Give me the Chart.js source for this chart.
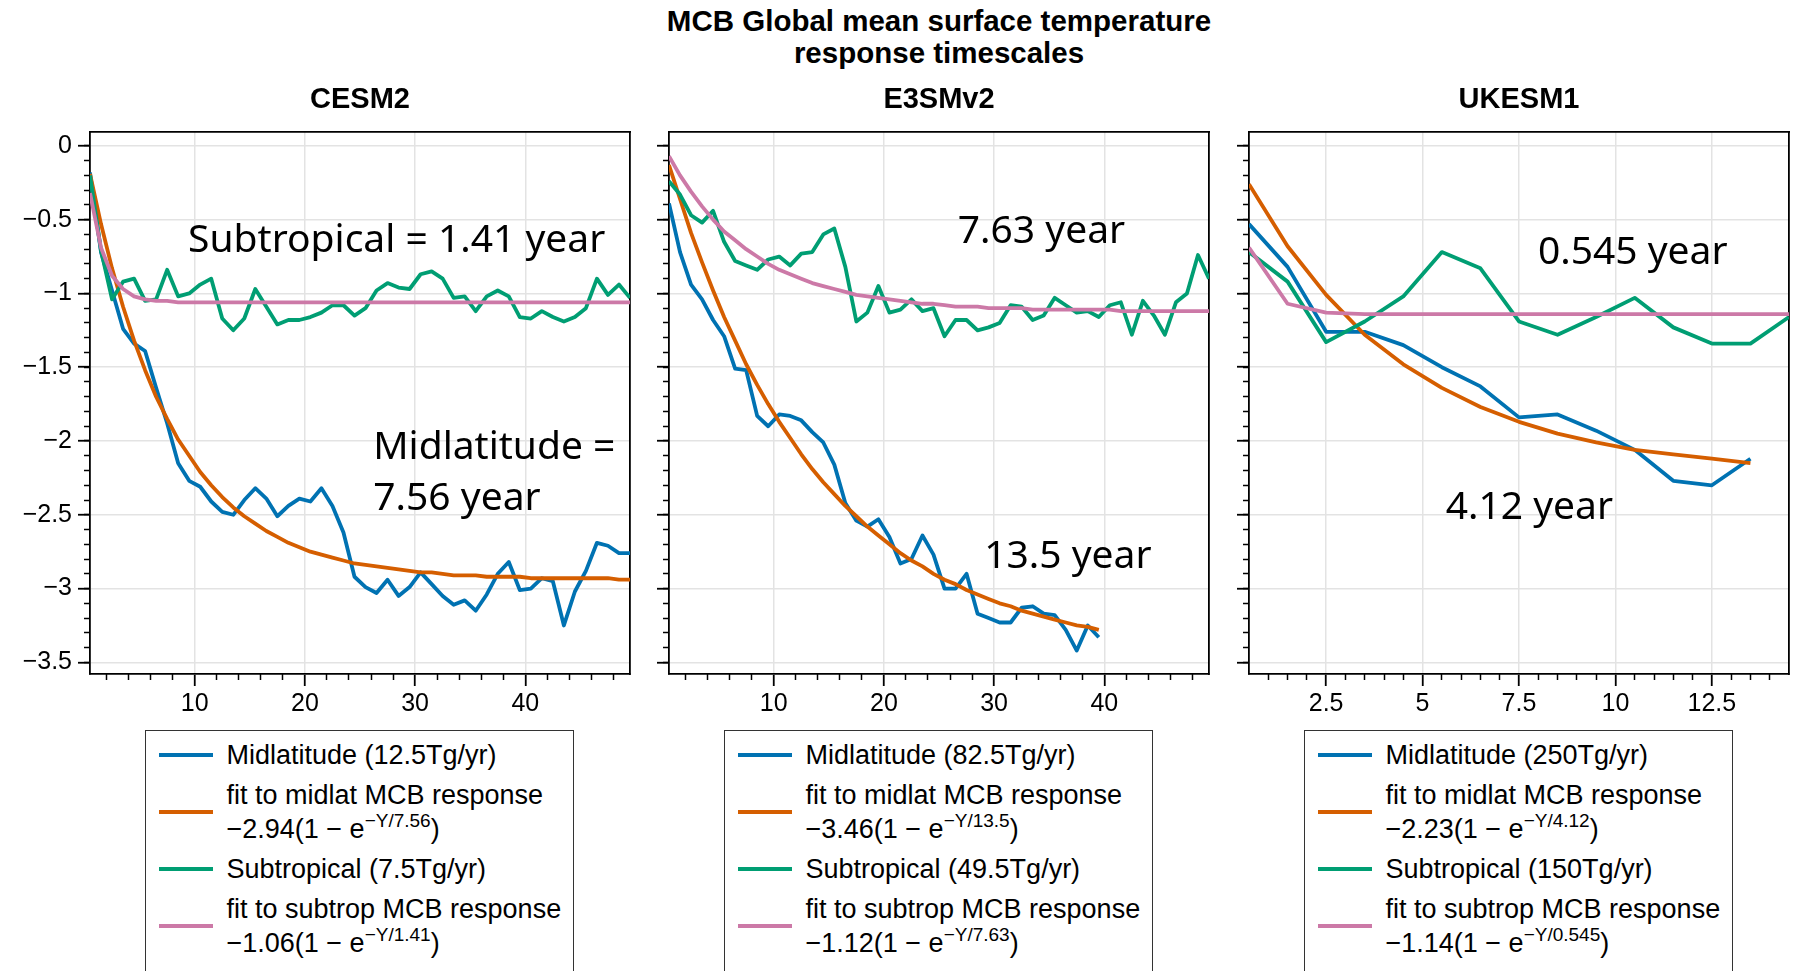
<!DOCTYPE html>
<html>
<head>
<meta charset="utf-8">
<title>MCB Global mean surface temperature response timescales</title>
<script src="https://cdn.jsdelivr.net/npm/chart.js@4.4.1/dist/chart.umd.min.js"></script>
<style>
  html, body { margin: 0; padding: 0; background: #fff; }
  body { width: 1800px; height: 971px; position: relative; overflow: hidden;
         font-family: "Liberation Sans", Arial, sans-serif; color: #000; }
  .suptitle { position: absolute; left: 539px; top: 5px; width: 800px; text-align: center;
              font-weight: bold; font-size: 29.5px; line-height: 32px; }
  canvas { position: absolute; top: 70px; }
  .legend { position: absolute; top: 730px; width: 429px; height: 260px; box-sizing: border-box;
            border: 1.5px solid #333; background: #fff; padding-top: 7px;
            font-size: 27px; line-height: 34px; }
  .row { display: flex; align-items: center; margin-bottom: 6px; }
  .handle { flex: none; width: 54px; height: 4px; margin-left: 12.5px; margin-right: 14px; }
  sup { font-size: 19px; line-height: 0; vertical-align: 11px; }
</style>
</head>
<body>
<div class="suptitle">MCB Global mean surface temperature<br>response timescales</div>

<script>
// values; annual means plotted at year 0.5, 1.5, ...
const years50 = [0.5, 1.5, 2.5, 3.5, 4.5, 5.5, 6.5, 7.5, 8.5, 9.5,
  10.5, 11.5, 12.5, 13.5, 14.5, 15.5, 16.5, 17.5, 18.5, 19.5,
  20.5, 21.5, 22.5, 23.5, 24.5, 25.5, 26.5, 27.5, 28.5, 29.5,
  30.5, 31.5, 32.5, 33.5, 34.5, 35.5, 36.5, 37.5, 38.5, 39.5,
  40.5, 41.5, 42.5, 43.5, 44.5, 45.5, 46.5, 47.5, 48.5, 49.5];
const years40 = [0.5, 1.5, 2.5, 3.5, 4.5, 5.5, 6.5, 7.5, 8.5, 9.5,
  10.5, 11.5, 12.5, 13.5, 14.5, 15.5, 16.5, 17.5, 18.5, 19.5,
  20.5, 21.5, 22.5, 23.5, 24.5, 25.5, 26.5, 27.5, 28.5, 29.5,
  30.5, 31.5, 32.5, 33.5, 34.5, 35.5, 36.5, 37.5, 38.5, 39.5];
const years15 = [0.5, 1.5, 2.5, 3.5, 4.5, 5.5, 6.5, 7.5, 8.5, 9.5, 10.5, 11.5, 12.5, 13.5, 14.5];
const years14 = [0.5, 1.5, 2.5, 3.5, 4.5, 5.5, 6.5, 7.5, 8.5, 9.5, 10.5, 11.5, 12.5, 13.5];

// CESM2
const cesmMid = [-0.18, -0.72, -0.98, -1.24, -1.34, -1.39, -1.64, -1.88, -2.15, -2.27,
  -2.31, -2.41, -2.48, -2.50, -2.40, -2.32, -2.39, -2.51, -2.44, -2.39,
  -2.41, -2.32, -2.44, -2.62, -2.92, -2.99, -3.03, -2.94, -3.05, -2.99,
  -2.89, -2.97, -3.05, -3.11, -3.08, -3.15, -3.04, -2.90, -2.82, -3.01,
  -3.00, -2.93, -2.95, -3.25, -3.02, -2.88, -2.69, -2.71, -2.76, -2.76];
const cesmMidFit = [-0.19, -0.53, -0.83, -1.09, -1.32, -1.52, -1.70, -1.85, -1.99, -2.10,
  -2.21, -2.30, -2.38, -2.45, -2.51, -2.56, -2.61, -2.65, -2.69, -2.72,
  -2.75, -2.77, -2.79, -2.81, -2.83, -2.84, -2.85, -2.86, -2.87, -2.88,
  -2.89, -2.89, -2.90, -2.91, -2.91, -2.91, -2.92, -2.92, -2.92, -2.92,
  -2.93, -2.93, -2.93, -2.93, -2.93, -2.93, -2.93, -2.93, -2.94, -2.94];
const cesmSub = [-0.20, -0.71, -1.04, -0.92, -0.90, -1.05, -1.04, -0.84, -1.02, -1.00,
  -0.94, -0.90, -1.17, -1.25, -1.17, -0.97, -1.09, -1.21, -1.18, -1.18,
  -1.16, -1.13, -1.08, -1.08, -1.15, -1.10, -0.98, -0.93, -0.96, -0.97,
  -0.87, -0.85, -0.90, -1.03, -1.02, -1.12, -1.02, -0.98, -1.02, -1.16,
  -1.17, -1.12, -1.16, -1.19, -1.16, -1.10, -0.90, -1.01, -0.94, -1.03];
const cesmSubFit = [-0.32, -0.69, -0.88, -0.97, -1.02, -1.04, -1.05, -1.05, -1.06, -1.06,
  -1.06, -1.06, -1.06, -1.06, -1.06, -1.06, -1.06, -1.06, -1.06, -1.06,
  -1.06, -1.06, -1.06, -1.06, -1.06, -1.06, -1.06, -1.06, -1.06, -1.06,
  -1.06, -1.06, -1.06, -1.06, -1.06, -1.06, -1.06, -1.06, -1.06, -1.06,
  -1.06, -1.06, -1.06, -1.06, -1.06, -1.06, -1.06, -1.06, -1.06, -1.06];

// E3SMv2
const e3smMid = [-0.39, -0.72, -0.94, -1.04, -1.18, -1.29, -1.51, -1.52, -1.83, -1.90,
  -1.82, -1.83, -1.86, -1.94, -2.01, -2.16, -2.42, -2.54, -2.58, -2.53,
  -2.65, -2.83, -2.80, -2.64, -2.77, -3.00, -3.00, -2.90, -3.17, -3.20,
  -3.23, -3.23, -3.13, -3.12, -3.17, -3.18, -3.28, -3.42, -3.25, -3.33];
const e3smMidFit = [-0.13, -0.36, -0.59, -0.79, -0.98, -1.16, -1.32, -1.48, -1.62, -1.75,
  -1.87, -1.98, -2.09, -2.19, -2.28, -2.36, -2.44, -2.51, -2.58, -2.64,
  -2.70, -2.76, -2.81, -2.85, -2.90, -2.94, -2.97, -3.01, -3.04, -3.07,
  -3.10, -3.12, -3.15, -3.17, -3.19, -3.21, -3.23, -3.25, -3.26, -3.28];
const e3smSub = [-0.24, -0.33, -0.47, -0.52, -0.44, -0.65, -0.78, -0.81, -0.84, -0.77,
  -0.75, -0.81, -0.73, -0.72, -0.60, -0.56, -0.82, -1.19, -1.13, -0.95,
  -1.13, -1.11, -1.04, -1.12, -1.10, -1.29, -1.18, -1.18, -1.25, -1.23,
  -1.20, -1.08, -1.09, -1.18, -1.15, -1.03, -1.08, -1.13, -1.12, -1.16,
  -1.08, -1.06, -1.28, -1.05, -1.15, -1.28, -1.06, -1.00, -0.74, -0.90];
const e3smSubFit = [-0.07, -0.20, -0.31, -0.41, -0.50, -0.58, -0.64, -0.70, -0.75, -0.80,
  -0.84, -0.87, -0.90, -0.93, -0.95, -0.97, -0.99, -1.01, -1.02, -1.03,
  -1.04, -1.05, -1.06, -1.07, -1.07, -1.08, -1.09, -1.09, -1.09, -1.10,
  -1.10, -1.10, -1.10, -1.11, -1.11, -1.11, -1.11, -1.11, -1.11, -1.11,
  -1.11, -1.12, -1.12, -1.12, -1.12, -1.12, -1.12, -1.12, -1.12, -1.12];

// UKESM1
const ukMid = [-0.53, -0.82, -1.26, -1.26, -1.35, -1.50, -1.63, -1.84, -1.82, -1.93, -2.06, -2.27, -2.30, -2.12];
const ukMidFit = [-0.26, -0.68, -1.01, -1.28, -1.48, -1.64, -1.77, -1.87, -1.95, -2.01, -2.06, -2.09, -2.12, -2.15];
const ukSub = [-0.72, -0.92, -1.33, -1.19, -1.02, -0.72, -0.83, -1.19, -1.28, -1.16, -1.03, -1.23, -1.34, -1.34, -1.16];
const ukSubFit = [-0.69, -1.07, -1.13, -1.14, -1.14, -1.14, -1.14, -1.14, -1.14, -1.14, -1.14, -1.14, -1.14, -1.14, -1.14];

// ticks
const yTicks = [0, -0.5, -1, -1.5, -2, -2.5, -3, -3.5];
const yTickLabels = ['0', '\u22120.5', '\u22121', '\u22121.5', '\u22122', '\u22122.5', '\u22123', '\u22123.5'];
const yMinorTicks = [0, -0.1, -0.2, -0.3, -0.4, -0.5, -0.6, -0.7, -0.8, -0.9,
  -1, -1.1, -1.2, -1.3, -1.4, -1.5, -1.6, -1.7, -1.8, -1.9,
  -2, -2.1, -2.2, -2.3, -2.4, -2.5, -2.6, -2.7, -2.8, -2.9,
  -3, -3.1, -3.2, -3.3, -3.4, -3.5];
const xTicksLong = [10, 20, 30, 40];
const xTickLabelsLong = ['10', '20', '30', '40'];
const xMinorLong = [2, 4, 6, 8, 12, 14, 16, 18, 22, 24, 26, 28, 32, 34, 36, 38, 42, 44, 46, 48];
const xTicksUk = [2.5, 5, 7.5, 10, 12.5];
const xTickLabelsUk = ['2.5', '5', '7.5', '10', '12.5'];
const xMinorUk = [1, 1.5, 2, 3, 3.5, 4, 4.5, 5.5, 6, 6.5, 7, 8, 8.5, 9, 9.5, 10.5, 11, 11.5, 12, 13, 13.5, 14];

const Y_MIN = -3.579, Y_MAX = 0.094;

const COLORS = { mid: '#0072B2', midFit: '#D55E00', sub: '#009E73', subFit: '#CC79A7' };
const FONT = '"Liberation Sans", Arial, sans-serif';

const panels = [
  {
    title: 'CESM2', plotLeft: 90, xMax: 49.5, showYLabels: true,
    xTicks: xTicksLong, xLabels: xTickLabelsLong, xMinor: xMinorLong,
    series: [
      { x: years50, y: cesmMid, color: COLORS.mid },
      { x: years50, y: cesmMidFit, color: COLORS.midFit },
      { x: years50, y: cesmSub, color: COLORS.sub },
      { x: years50, y: cesmSubFit, color: COLORS.subFit },
    ],
    notes: [
      { text: 'Subtropical = 1.41 year', x: 9.4, y: -0.72 },
      { text: 'Midlatitude =', x: 26.2, y: -2.12 },
      { text: '7.56 year', x: 26.2, y: -2.47 },
    ],
    legend: ['Midlatitude (12.5Tg/yr)', '\u22122.94(1 \u2212 e<sup>\u2212Y/7.56</sup>)',
             'Subtropical (7.5Tg/yr)', '\u22121.06(1 \u2212 e<sup>\u2212Y/1.41</sup>)'],
  },
  {
    title: 'E3SMv2', plotLeft: 669, xMax: 49.5, showYLabels: false,
    xTicks: xTicksLong, xLabels: xTickLabelsLong, xMinor: xMinorLong,
    series: [
      { x: years40, y: e3smMid, color: COLORS.mid },
      { x: years40, y: e3smMidFit, color: COLORS.midFit },
      { x: years50, y: e3smSub, color: COLORS.sub },
      { x: years50, y: e3smSubFit, color: COLORS.subFit },
    ],
    notes: [
      { text: '7.63 year', x: 26.7, y: -0.66 },
      { text: '13.5 year', x: 29.1, y: -2.86 },
    ],
    legend: ['Midlatitude (82.5Tg/yr)', '\u22123.46(1 \u2212 e<sup>\u2212Y/13.5</sup>)',
             'Subtropical (49.5Tg/yr)', '\u22121.12(1 \u2212 e<sup>\u2212Y/7.63</sup>)'],
  },
  {
    title: 'UKESM1', plotLeft: 1249, xMax: 14.5, showYLabels: false,
    xTicks: xTicksUk, xLabels: xTickLabelsUk, xMinor: xMinorUk,
    series: [
      { x: years14, y: ukMid, color: COLORS.mid },
      { x: years14, y: ukMidFit, color: COLORS.midFit },
      { x: years15, y: ukSub, color: COLORS.sub },
      { x: years15, y: ukSubFit, color: COLORS.subFit },
    ],
    notes: [
      { text: '0.545 year', x: 7.99, y: -0.80 },
      { text: '4.12 year', x: 5.6, y: -2.53 },
    ],
    legend: ['Midlatitude (250Tg/yr)', '\u22122.23(1 \u2212 e<sup>\u2212Y/4.12</sup>)',
             'Subtropical (150Tg/yr)', '\u22121.14(1 \u2212 e<sup>\u2212Y/0.545</sup>)'],
  },
];

// the big "x year" labels, anchored in data units
const yearLabels = {
  id: 'yearLabels',
  afterDatasetsDraw(chart, args, opts) {
    const { ctx, scales } = chart;
    ctx.save();
    ctx.font = '39px "Noto Sans", sans-serif';
    ctx.fillStyle = '#000';
    ctx.textAlign = 'left';
    ctx.textBaseline = 'alphabetic';
    for (const n of opts.items || []) {
      ctx.fillText(n.text, scales.x.getPixelForValue(n.x), scales.y.getPixelForValue(n.y));
    }
    ctx.restore();
  },
};

function points(xs, ys) {
  return ys.map((y, i) => ({ x: xs[i], y }));
}

function setTicks(list) {
  return (scale) => { scale.ticks = list.map(v => ({ value: v })); };
}

const gridMajor = { color: '#e3e3e3', lineWidth: 1.5, tickColor: '#000', tickLength: 12, tickWidth: 1.8 };
const gridMinor = { display: true, drawOnChartArea: false, tickColor: '#000', tickLength: 6, tickWidth: 1.5 };
const spine = { display: true, color: '#000', width: 1.8 };
const tickFont = { family: FONT, size: 25 };

function makePanel(p) {
  const canvas = document.createElement('canvas');
  canvas.width = 640;
  canvas.height = 654;
  canvas.style.left = (p.plotLeft - 90) + 'px';
  canvas.style.width = '640px';
  canvas.style.height = '654px';
  document.body.appendChild(canvas);

  new Chart(canvas, {
    type: 'line',
    data: {
      datasets: p.series.map((s, k) => ({
        data: points(s.x, s.y),
        borderColor: s.color,
        backgroundColor: s.color,
        borderWidth: 3.8,
        borderJoinStyle: 'round',
        pointRadius: 0,
        tension: 0,
        fill: false,
        order: 4 - k, // later series drawn on top, as in the original
      })),
    },
    options: {
      responsive: false,
      animation: false,
      devicePixelRatio: 1,
      layout: { padding: { top: 0, right: 10, left: 0, bottom: 0 } },
      plugins: {
        legend: { display: false },
        tooltip: { enabled: false },
        title: {
          display: true, text: p.title, fullSize: false, color: '#000',
          font: { family: FONT, size: 29, weight: 'bold', lineHeight: 1.2 },
          padding: { top: 12.6, bottom: 14.6 },
        },
        yearLabels: { items: p.notes },
      },
      scales: {
        x: {
          type: 'linear', position: 'bottom', min: 0.5, max: p.xMax, weight: 1,
          afterBuildTicks: setTicks(p.xTicks),
          afterFit: (s) => { s.height = 50; },
          ticks: { autoSkip: false, maxRotation: 0, padding: 3, color: '#000', font: tickFont,
                   callback: (v, i) => p.xLabels[i] },
          grid: gridMajor, border: spine,
        },
        xMinor: {
          type: 'linear', axis: 'x', position: 'bottom', min: 0.5, max: p.xMax, weight: 0,
          afterBuildTicks: setTicks(p.xMinor),
          afterFit: (s) => { s.height = 0; },
          ticks: { display: false, autoSkip: false },
          grid: gridMinor, border: { display: false },
        },
        xTop: {
          type: 'linear', axis: 'x', position: 'top', min: 0.5, max: p.xMax,
          afterFit: (s) => { s.height = 0; },
          ticks: { display: false }, grid: { display: false }, border: spine,
        },
        y: {
          type: 'linear', position: 'left', min: Y_MIN, max: Y_MAX, weight: 1,
          afterBuildTicks: setTicks(yTicks),
          afterFit: (s) => { s.width = 90; },
          ticks: { display: p.showYLabels, autoSkip: false, padding: 6, color: '#000', font: tickFont,
                   callback: (v, i) => yTickLabels[i] },
          grid: gridMajor, border: spine,
        },
        yMinor: {
          type: 'linear', axis: 'y', position: 'left', min: Y_MIN, max: Y_MAX, weight: 0,
          afterBuildTicks: setTicks(yMinorTicks),
          afterFit: (s) => { s.width = 0; },
          ticks: { display: false, autoSkip: false },
          grid: gridMinor, border: { display: false },
        },
        yRight: {
          type: 'linear', axis: 'y', position: 'right', min: Y_MIN, max: Y_MAX,
          afterFit: (s) => { s.width = 0; },
          ticks: { display: false }, grid: { display: false }, border: spine,
        },
      },
    },
    plugins: [yearLabels],
  });

  // legend box under the panel
  const box = document.createElement('div');
  box.className = 'legend';
  box.style.left = (p.plotLeft + 55) + 'px';
  const colors = [COLORS.mid, COLORS.midFit, COLORS.sub, COLORS.subFit];
  const texts = [
    p.legend[0],
    'fit to midlat MCB response<br>' + p.legend[1],
    p.legend[2],
    'fit to subtrop MCB response<br>' + p.legend[3],
  ];
  box.innerHTML = texts.map((t, k) =>
    `<div class="row"><span class="handle" style="background:${colors[k]}"></span><div>${t}</div></div>`
  ).join('');
  document.body.appendChild(box);
}

panels.forEach(makePanel);
</script>
</body>
</html>
